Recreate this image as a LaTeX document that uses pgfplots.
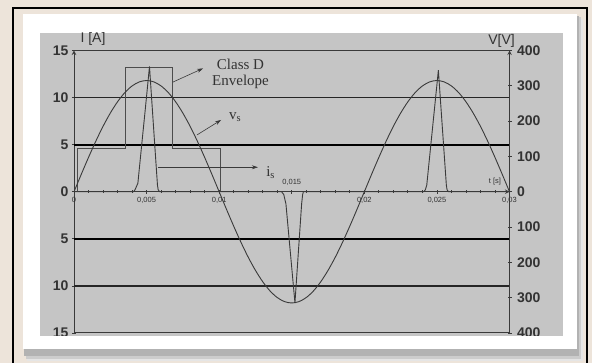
\documentclass[border=0pt]{standalone}
\usepackage{pgfplots}
\pgfplotsset{compat=1.18}
\usepackage{fontspec}
\setmainfont{Liberation Serif}
\setsansfont{Liberation Sans}
\usetikzlibrary{arrows.meta}

\definecolor{outerbg}{HTML}{EDE4DA}
\definecolor{plotbg}{HTML}{C5C5C5}
\definecolor{ink}{HTML}{3A3A3A}
\definecolor{labelink}{HTML}{333333}

\pgfplotsset{
  frameaxis/.style={
    at={(74pt,30pt)}, anchor=south west,
    width=435.5pt, height=282.5pt, scale only axis,
    xmin=0, xmax=0.03,
    axis line style={-, draw=ink, line width=1pt},
    tick style={draw=ink, line width=0.8pt},
    tick align=center,
    major tick length=4pt, minor tick length=2.5pt,
    yticklabel style={font=\sffamily\bfseries\fontsize{14}{14}\selectfont, text=labelink},
  }
}

\begin{document}
\begin{tikzpicture}[x=1pt,y=1pt]
\clip (0,0) rectangle (592,363);
\fill[outerbg] (0,0) rectangle (592,363);
\draw[black, line width=2.5pt] (13,-10) rectangle (587,355);
% panel shadow
\fill[black!10] (27,2) rectangle (583,344);
\fill[black!20] (26,4) rectangle (581,346);
\fill[black!30] (24,7) rectangle (579,347);
\fill[white] (23,14) rectangle (577,349);
\fill[plotbg] (40,27) rectangle (563,330.3);

\begin{scope}
\clip (40,27) rectangle (563,330.3);

% current axis (left)
\begin{axis}[
  frameaxis,
  ymin=-15, ymax=15,
  axis x line=middle, axis y line=left,
  hide obscured x ticks=false, hide obscured y ticks=false,
  scaled x ticks=false,
  ytick={-15,-10,-5,0,5,10,15},
  yticklabels={15,10,5,0,5,10,15},
  xtick={0,0.005,0.01,0.015,0.02,0.025,0.03},
  xticklabels={0,{0,005},{0,01},{},{0,02},{0,025},{0,03}},
  minor x tick num=4,
  xticklabel style={font=\sffamily\fontsize{7.5}{8}\selectfont, text=labelink},
]
  \draw[ink, line width=1pt] (axis cs:0,15) -- (axis cs:0.03,15);
  \draw[ink, line width=1pt] (axis cs:0,-15) -- (axis cs:0.03,-15);
  \draw[black!85, line width=1.2pt] (axis cs:0,10) -- (axis cs:0.03,10);
  \draw[black!85, line width=1.2pt] (axis cs:0,-10) -- (axis cs:0.03,-10);
  \draw[black, line width=2pt] (axis cs:0,5) -- (axis cs:0.03,5);
  \draw[black, line width=2pt] (axis cs:0,-5) -- (axis cs:0.03,-5);

  % Class D envelope
  \addplot[draw=black!70, line width=1.1pt, sharp plot] coordinates {
    (0.00023,0) (0.00023,4.6) (0.00352,4.6) (0.00352,13.2)
    (0.00678,13.2) (0.00678,4.6) (0.0101,4.6) (0.0101,0)
  };

  % current i_s
  \addplot[draw=ink, line width=0.9pt, sharp plot] coordinates {
    (0,0) (0.0041,0) (0.0042,0.2) (0.0044,0.9) (0.0046,4.0) (0.0049,8.6)
    (0.0052,13.3) (0.0054,8.7) (0.0056,4.1) (0.00575,0.7) (0.0058,0.2) (0.0059,0)
    (0.0143,0) (0.01445,-0.3) (0.0146,-1.3) (0.01522,-11.8) (0.01568,-1.3)
    (0.01575,-0.3) (0.0158,0)
    (0.0241,0) (0.0242,0.2) (0.0243,0.7) (0.0251,12.9) (0.02565,0.7)
    (0.0257,0.2) (0.0258,0) (0.03,0)
  };

  \node[font=\sffamily\fontsize{7.5}{8}\selectfont, text=labelink, anchor=south]
    at (axis cs:0.015,0.3) {0,015};
  \node[font=\sffamily\fontsize{7.5}{8}\selectfont, text=labelink, anchor=south]
    at (axis cs:0.029,0.3) {t [s]};

  \node[font=\fontsize{15}{16}\selectfont, align=center, text=labelink]
    at (axis cs:0.01147,12.5) {Class D\\Envelope};
  \draw[-{Stealth[length=6pt,width=4pt]}, ink, line width=0.6pt]
    (axis cs:0.00682,11.65) -- (axis cs:0.00889,13.1);
  \draw[-{Stealth[length=6pt,width=4pt]}, ink, line width=0.6pt]
    (axis cs:0.00847,6.03) -- (axis cs:0.01013,7.62);
  \node[font=\fontsize{15}{16}\selectfont, text=labelink, anchor=west]
    at (axis cs:0.01045,7.9) {v\textsubscript{s}};
  \draw[-{Stealth[length=6pt,width=4pt]}, ink, line width=0.6pt]
    (axis cs:0.00579,2.6) -- (axis cs:0.01267,2.6);
  \node[font=\fontsize{15}{16}\selectfont, text=labelink, anchor=west]
    at (axis cs:0.0130,2.0) {i\textsubscript{s}};
\end{axis}

% voltage axis (right)
\begin{axis}[
  frameaxis,
  ymin=-400, ymax=400,
  axis x line=none, axis y line=right,
  ytick={-400,-300,-200,-100,0,100,200,300,400},
  yticklabels={400,300,200,100,0,100,200,300,400},
  yticklabel style={anchor=west, xshift=2pt},
]
  \addplot[draw=ink, line width=0.9pt, smooth] coordinates {
    (0,0) (0.0005,49.3) (0.001,97.3) (0.0015,143.0) (0.002,185.2)
    (0.0025,222.7) (0.003,254.8) (0.0035,280.7) (0.004,299.6) (0.0045,311.1)
    (0.005,315.0) (0.0055,311.1) (0.006,299.6) (0.0065,280.7) (0.007,254.8)
    (0.0075,222.7) (0.008,185.2) (0.0085,143.0) (0.009,97.3) (0.0095,49.3)
    (0.01,0) (0.0105,-49.3) (0.011,-97.3) (0.0115,-143.0) (0.012,-185.2)
    (0.0125,-222.7) (0.013,-254.8) (0.0135,-280.7) (0.014,-299.6) (0.0145,-311.1)
    (0.015,-315.0) (0.0155,-311.1) (0.016,-299.6) (0.0165,-280.7) (0.017,-254.8)
    (0.0175,-222.7) (0.018,-185.2) (0.0185,-143.0) (0.019,-97.3) (0.0195,-49.3)
    (0.02,0) (0.0205,49.3) (0.021,97.3) (0.0215,143.0) (0.022,185.2)
    (0.0225,222.7) (0.023,254.8) (0.0235,280.7) (0.024,299.6) (0.0245,311.1)
    (0.025,315.0) (0.0255,311.1) (0.026,299.6) (0.0265,280.7) (0.027,254.8)
    (0.0275,222.7) (0.028,185.2) (0.0285,143.0) (0.029,97.3) (0.0295,49.3)
    (0.03,0)
  };
\end{axis}

\node[font=\sffamily\fontsize{14}{14}\selectfont, text=labelink, anchor=base]
  at (93,320.5) {I [A]};
\node[font=\sffamily\fontsize{14}{14}\selectfont, text=labelink, anchor=base]
  at (501.5,318) {V[V]};
\end{scope}
\end{tikzpicture}
\end{document}
